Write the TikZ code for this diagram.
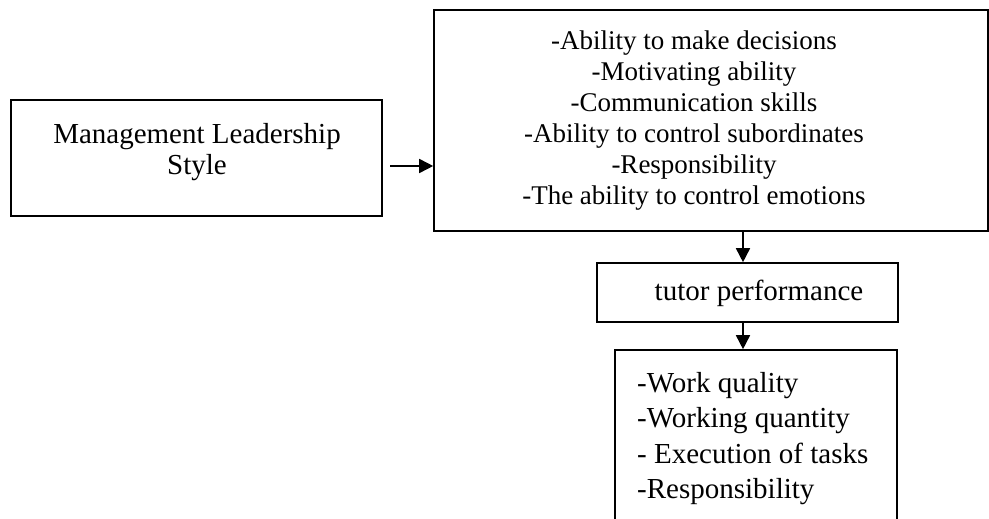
\documentclass[tikz,border=0pt]{standalone}
\usepackage{fontspec}
\setmainfont{Liberation Serif}
\usetikzlibrary{arrows.meta}
\begin{document}
\begin{tikzpicture}[x=1pt,y=-1pt,
  boxline/.style={draw=black,line width=1.6pt},
  txt/.style={inner sep=0pt,font=\fontsize{29}{31}\selectfont},
  arr/.style={line width=1.6pt,-{Triangle[length=14pt,width=14pt]}}]
\useasboundingbox (0,0) rectangle (989,519);
\clip (0,0) rectangle (989,519);
% left box
\node[boxline,minimum width=371pt,minimum height=116pt,inner sep=0pt] (lbox) at (196.5,158) {};
\node[txt,align=center] (ltxt) at (197,152) {Management Leadership\\Style};
% big box
\node[boxline,minimum width=554pt,minimum height=221pt,inner sep=0pt] (bbox) at (711,120.5) {};
\node[txt,align=center,font=\fontsize{27}{31}\selectfont] (btxt) at (694,121) {-Ability to make decisions\\-Motivating ability\\-Communication skills\\-Ability to control subordinates\\-Responsibility\\-The ability to control emotions};
% tutor box
\node[boxline,minimum width=301pt,minimum height=59pt,inner sep=0pt] (tbox) at (747.5,292.5) {};
\node[txt] (ttxt) at (759,293) {tutor performance};
% bottom box (open at the bottom, cut by the frame)
\node[boxline,minimum width=282pt,minimum height=240pt,inner sep=0pt] (pbox) at (756,470) {};
\node[txt,align=left,anchor=north west,font=\fontsize{29}{35.5}\selectfont] (ptxt) at (637,372) {-Work quality\\-Working quantity\\- Execution of tasks\\-Responsibility};
% connectors
\coordinate (a1) at (390,166);
\draw[arr] (a1) -- (a1 -| bbox.west);
\coordinate (a2) at (743,0);
\draw[arr] (a2 |- bbox.south) -- (a2 |- tbox.north);
\draw[arr] (a2 |- tbox.south) -- (a2 |- pbox.north);
\end{tikzpicture}
\end{document}
